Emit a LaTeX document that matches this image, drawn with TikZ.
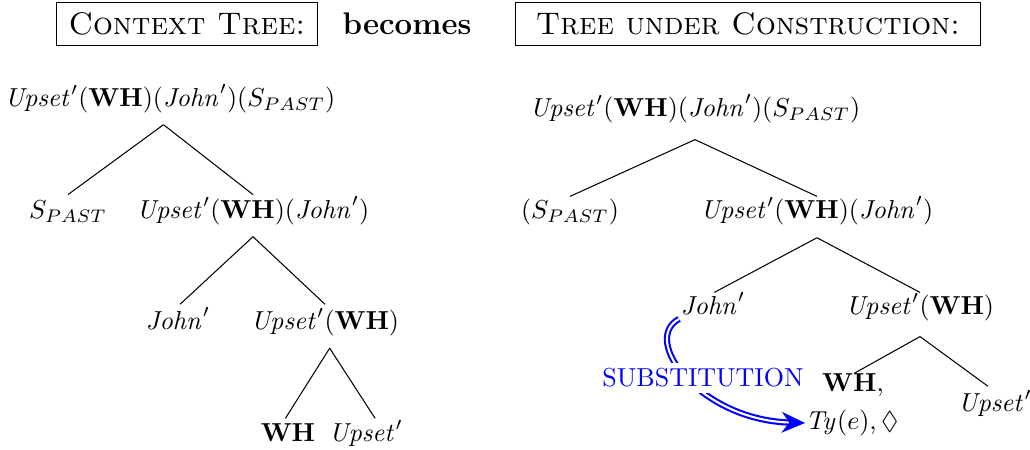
\documentclass[tikz,border=0pt]{standalone}
\usepackage{amssymb}
\usetikzlibrary{arrows.meta}
\begin{document}
\begin{tikzpicture}[x=0.3846pt,y=-0.3846pt,
  tn/.style={inner xsep=1pt,inner ysep=3.5pt,text height=7.5pt,text depth=2.5pt},
  hbox/.style={draw,thin,inner ysep=4pt,font=\large},
  br/.style={thin},
  subst/.style={blue,double=white,double distance=0.8pt,line width=0.8pt,-{Stealth[length=9pt,width=8pt]}}]
\useasboundingbox (0,0) rectangle (1030,450);
% header
\node[hbox,inner xsep=4.5pt] (h1) at (187,24) {\textsc{Context Tree:}};
\node[font=\large\bfseries] (h2) at (407,24) {becomes};
\node[hbox,inner xsep=8pt] (h3) at (748,24) {\textsc{Tree under Construction:}};
% left tree
\node[tn] (l0) at (170,100) {$\mathit{Upset}'(\mathbf{WH})(\mathit{John}')(S_{PAST})$};
\node[tn] (l1) at (68,212) {$S_{PAST}$};
\node[tn] (l2) at (253,212) {$\mathit{Upset}'(\mathbf{WH})(\mathit{John}')$};
\node[tn] (l3) at (178,323) {$\mathit{John}'$};
\node[tn] (l4) at (325,323) {$\mathit{Upset}'(\mathbf{WH})$};
\node[tn] (l5) at (288,435) {$\mathbf{WH}$};
\node[tn] (l6) at (366,435) {$\mathit{Upset}'$};
\draw[br] ([xshift=-2.5pt,yshift=-0.8pt]l0.south) -- ([yshift=-2pt]l1.north);
\draw[br] ([xshift=-2.5pt,yshift=-0.8pt]l0.south) -- ([yshift=-2pt]l2.north);
\draw[br] ([yshift=-0.8pt]l2.south) -- ([xshift=0.8pt,yshift=-1.5pt]l3.north);
\draw[br] ([yshift=-0.8pt]l2.south) -- ([yshift=-1.5pt]l4.north);
\draw[br] ([xshift=1.8pt,yshift=-1pt]l4.south) -- ([xshift=-1pt,yshift=-2.3pt]l5.north);
\draw[br] ([xshift=1.8pt,yshift=-1pt]l4.south) -- ([xshift=3.5pt,yshift=-2.3pt]l6.north);
% right tree
\node[tn] (r0) at (695,110) {$\mathit{Upset}'(\mathbf{WH})(\mathit{John}')(S_{PAST})$};
\node[tn] (r1) at (570,212) {$(S_{PAST})$};
\node[tn] (r2) at (817,212) {$\mathit{Upset}'(\mathbf{WH})(\mathit{John}')$};
\node[tn] (r3) at (713,308) {$\mathit{John}'$};
\node[tn] (r4) at (920,308) {$\mathit{Upset}'(\mathbf{WH})$};
\node[tn] (r5) at (853,385) {$\mathbf{WH}$,};
\node[tn] (r6) at (852,423) {$\mathit{Ty}(e),\Diamond$};
\node[tn] (r7) at (995,405) {$\mathit{Upset}'$};
\draw[br] ([yshift=-2.7pt]r0.south) -- ([yshift=-2.7pt]r1.north);
\draw[br] ([yshift=-2.7pt]r0.south) -- ([yshift=-2.7pt]r2.north);
\draw[br] ([yshift=-1.2pt]r2.south) -- ([xshift=0.5pt,yshift=-2.7pt]r3.north);
\draw[br] ([yshift=-1.2pt]r2.south) -- ([yshift=-2.7pt]r4.north);
\draw[br] ([yshift=-2.3pt]r4.south) -- ([xshift=0.5pt,yshift=-4.2pt]r5.north);
\draw[br] ([yshift=-2.3pt]r4.south) -- ([xshift=-2.7pt,yshift=-1.5pt]r7.north);
% substitution arrow
\draw[subst] ([xshift=0.5pt,yshift=4.5pt]r3.south west) .. controls (640,340) and (700,420) .. ([xshift=1pt]r6.west);
\node[text=blue,fill=white,inner sep=2pt] (sub) at (703,378) {SUBSTITUTION};
\end{tikzpicture}
\end{document}
